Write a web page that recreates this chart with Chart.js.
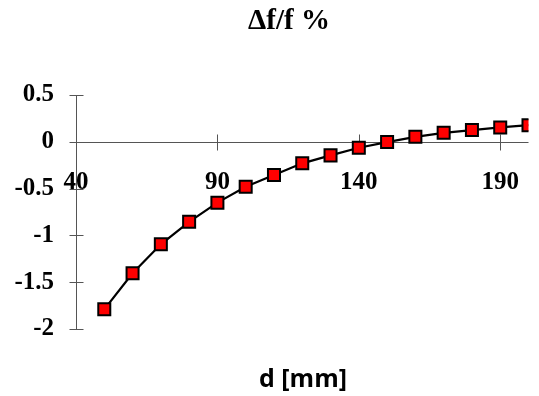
<!DOCTYPE html>
<html>
<head>
<meta charset="utf-8">
<script src="https://cdn.jsdelivr.net/npm/chart.js@4"></script>
<style>
html,body{margin:0;padding:0;background:#fff;}
#wrap{width:539px;height:396px;position:relative;}
</style>
</head>
<body>
<div id="wrap"><canvas id="c" width="539" height="396"></canvas></div>
<script>
const chartTitle = "\u0394f/f %";
const xTitle = "d [mm]";
const dValues = [50, 60, 70, 80, 90, 100, 110, 120, 130, 140, 150, 160, 170, 180, 190, 200];
const dfValues = [-1.79, -1.405, -1.095, -0.855, -0.65, -0.48, -0.355, -0.23, -0.145, -0.063, -0.003, 0.053, 0.096, 0.125, 0.154, 0.178];
const xTickValues = [40, 90, 140, 190];
const yTickValues = [0.5, 0, -0.5, -1, -1.5, -2];

const serifBold = {family: '"Liberation Serif", "Times New Roman", serif', weight: 'bold', size: 25};

const decorPlugin = {
  id: 'decor',
  beforeDatasetsDraw(chart) {
    const ctx = chart.ctx;
    const xs = chart.scales.x, ys = chart.scales.y;
    const y0 = Math.round(ys.getPixelForValue(0)) + 0.5;
    const x0 = Math.round(xs.getPixelForValue(40)) + 0.5;
    ctx.save();
    ctx.strokeStyle = '#555';
    ctx.lineWidth = 1;
    ctx.beginPath();
    ctx.moveTo(xs.getPixelForValue(40), y0);
    ctx.lineTo(xs.getPixelForValue(200), y0);
    ctx.moveTo(x0, ys.getPixelForValue(0.5));
    ctx.lineTo(x0, ys.getPixelForValue(-2));
    xTickValues.forEach(v => {
      const px = Math.round(xs.getPixelForValue(v)) + 0.5;
      ctx.moveTo(px, y0 - 8);
      ctx.lineTo(px, y0 + 8);
    });
    yTickValues.forEach(v => {
      const py = Math.round(ys.getPixelForValue(v)) + 0.5;
      ctx.moveTo(x0 - 7, py);
      ctx.lineTo(x0 + 7, py);
    });
    ctx.stroke();
    ctx.restore();
  },
  afterDraw(chart) {
    const ctx = chart.ctx;
    ctx.save();
    ctx.fillStyle = '#000';
    ctx.textAlign = 'center';
    ctx.textBaseline = 'alphabetic';
    ctx.font = 'bold 29px "Liberation Serif", "Times New Roman", serif';
    ctx.fillText(chartTitle, 289, 29);
    ctx.font = 'bold 25px "Open Sans", "DejaVu Sans", sans-serif';
    ctx.fillText(xTitle, 303, 387);
    ctx.restore();
  }
};

new Chart(document.getElementById('c'), {
  type: 'line',
  data: {
    datasets: [{
      data: dValues.map((d, i) => ({x: d, y: dfValues[i]})),
      borderColor: '#000',
      borderWidth: 2.2,
      pointStyle: 'rect',
      pointRadius: 8.5,
      pointHoverRadius: 8.5,
      pointBackgroundColor: '#ff0000',
      pointBorderColor: '#000',
      pointBorderWidth: 2,
      tension: 0,
      fill: false
    }]
  },
  options: {
    responsive: false,
    animation: false,
    events: [],
    layout: {padding: {top: 95, right: 7, bottom: 67, left: 0}},
    plugins: {legend: {display: false}, tooltip: {enabled: false}, title: {display: false}},
    scales: {
      x: {
        type: 'linear',
        min: 40, max: 200,
        position: {y: 0},
        grid: {display: false, drawTicks: true, tickLength: 26},
        border: {display: false},
        ticks: {color: '#000', font: serifBold, padding: 0, maxRotation: 0, autoSkip: false,
                callback: v => String(v)},
        afterBuildTicks(scale) { scale.ticks = xTickValues.map(v => ({value: v})); }
      },
      y: {
        type: 'linear',
        min: -2, max: 0.5,
        grid: {display: false, drawTicks: true, tickLength: 8},
        border: {display: false},
        ticks: {color: '#000', font: serifBold, padding: 14, callback: v => String(v)},
        afterBuildTicks(scale) { scale.ticks = yTickValues.slice().reverse().map(v => ({value: v})); },
        afterFit(scale) { scale.width = 76; }
      }
    }
  },
  plugins: [decorPlugin]
});
</script>
</body>
</html>
